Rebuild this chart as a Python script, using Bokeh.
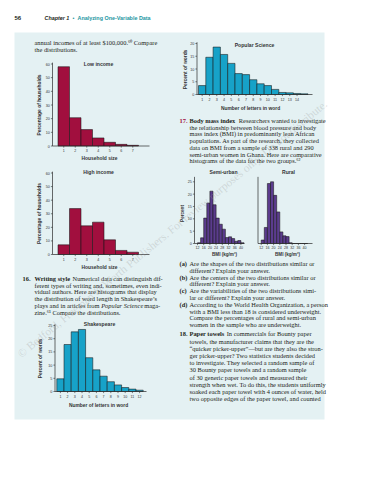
from math import pi, atan2
from bokeh.plotting import figure
from bokeh.models import Range1d, ColumnDataSource
from bokeh.embed import file_html
from bokeh.resources import INLINE
from bokeh.core.properties import value

# ---------------- data ----------------
household_size = [1, 2, 3, 4, 5, 6, 7]
low_income_pct = [58.0, 20.7, 12.0, 5.9, 2.7, 1.2, 0.5]
high_income_pct = [7.1, 33.8, 21.1, 23.8, 10.8, 3.0, 1.7]
income_ticks = [0, 10, 20, 30, 40, 50, 60]

shakespeare_letters = [1, 2, 3, 4, 5, 6, 7, 8, 9, 10, 11, 12]
shakespeare_pct = [4.8, 17.8, 22.6, 23.5, 12.8, 8.2, 5.8, 3.7, 2.5, 1.5, 0.9, 0.5]
shakespeare_ticks = [0, 5, 10, 15, 20, 25]

popsci_letters = [1, 2, 3, 4, 5, 6, 7, 8, 9, 10, 11, 12, 13, 14, 15]
popsci_pct = [3.5, 14.6, 18.6, 15.7, 12.2, 8.2, 7.8, 5.8, 4.2, 3.5, 2.0, 0.8, 0.65, 0.4, 0.25]
popsci_ticks = [0, 5, 10, 15, 20]
popsci_tick_letters = [1, 2, 3, 4, 5, 6, 7, 8, 9, 10, 11, 12, 13, 14]

bmi_bin_left = [12, 14, 16, 18, 20, 22, 24, 26, 28, 30, 32, 34, 36, 38, 40]
semi_urban_pct = [0.3, 2.3, 10.3, 16.4, 21.2, 15.7, 10.3, 7.8, 5.8, 2.4, 2.7, 2.0, 0.9, 1.2, 0.3]
rural_pct = [1.4, 6.5, 24.3, 25.0, 19.5, 12.8, 4.7, 3.1, 2.8, 0.3, 0.0, 0.0, 0.0, 0.0, 0.0]
bmi_ticks = [12, 16, 20, 24, 28, 32, 36, 40]
bmi_pct_ticks = [0, 5, 10, 15, 20, 25]

# ---------------- styles ----------------
SERIF = value("Liberation Serif")
SANS = value("Liberation Sans")
INK = "#231f20"
PANEL = "#e4f1f3"
MAROON = "#a10f3e"
CYAN = "#17a2c8"
PURPLE = "#5b3c8e"
TEAL = "#2496a2"

p = figure(width=360, height=464, x_range=Range1d(8, 368), y_range=Range1d(472, 8),
           x_axis_location=None, y_axis_location=None, toolbar_location=None,
           output_backend="svg", min_border=0, title=None,
           outline_line_color=None, background_fill_color="white",
           border_fill_color="white")
p.xgrid.visible = False
p.ygrid.visible = False

# panel background
p.quad(left=[22], right=[332], top=[40], bottom=[427], fill_color=PANEL, line_color=None)

# Times-like widths for placing text runs
TW = {' ': 250, 'a': 444, 'b': 500, 'c': 444, 'd': 500, 'e': 444, 'f': 333, 'g': 500, 'h': 500,
      'i': 278, 'j': 278, 'k': 500, 'l': 278, 'm': 778, 'n': 500, 'o': 500, 'p': 500, 'q': 500,
      'r': 333, 's': 389, 't': 278, 'u': 500, 'v': 500, 'w': 722, 'x': 500, 'y': 500, 'z': 444,
      'A': 722, 'B': 667, 'C': 667, 'P': 556, 'S': 556, 'W': 944, '.': 250}


def tw(s, size, bold=False):
    return sum(TW.get(c, 500) for c in s) / 1000 * size * (1.08 if bold else 1.0)


FS = 6.4
FSPX = f"{FS}px"


def txt(x, y, s, size=FSPX, font=SERIF, style="normal", color=INK, align="left",
        baseline="middle", angle=0, alpha=1.0):
    p.text(x=[x], y=[y], text=[s], text_font=font, text_font_size=size,
           text_font_style=style, text_color=color, text_align=align,
           text_baseline=baseline, angle=angle, text_alpha=alpha)


# header
txt(22, 25, "56", size="6px", font=SANS, style="bold")
txt(52, 25, "Chapter 1", size="5.4px", font=SANS, style="bold italic")
txt(80, 25, "•", size="5.4px", font=SANS, color=TEAL)
txt(85, 25, "Analyzing One-Variable Data", size="5.4px", font=SANS, style="bold", color=TEAL)

# left column text
LX = 42
txt(LX, 50, "annual incomes of at least $100,000.⁶⁰ Compare")
txt(LX, 57, "the distributions.")

y16 = 286
dy = 6.7
txt(30, y16, "16.", style="bold")
txt(LX, y16, "Writing style", style="bold")
txt(LX + tw("Writing style ", FS, True), y16, "Numerical data can distinguish dif-")
p16 = ["ferent types of writing and, sometimes, even indi-",
       "vidual authors. Here are histograms that display",
       "the distribution of word length in Shakespeare’s"]
for i, s in enumerate(p16):
    txt(LX, y16 + dy * (i + 1), s)
run1 = "plays and in articles from "
txt(LX, y16 + dy * 4, run1)
txt(LX + tw(run1, FS), y16 + dy * 4, "Popular Science", style="italic")
txt(LX + tw(run1 + "Popular Science ", FS), y16 + dy * 4, "maga-")
txt(LX, y16 + dy * 5, "zine.⁶¹ Compare the distributions.")

# right column text
RX = 197
NX = 187
y17 = 128
txt(NX, y17, "17.", style="bold", color=MAROON)
txt(RX, y17, "Body mass index", style="bold")
txt(RX + tw("Body mass index ", FS, True), y17, "Researchers wanted to investigate")
p17 = ["the relationship between blood pressure and body",
       "mass index (BMI) in predominantly lean African",
       "populations. As part of the research, they collected",
       "data on BMI from a sample of 338 rural and 290",
       "semi-urban women in Ghana. Here are comparative",
       "histograms of the data for the two groups.⁶²"]
for i, s in enumerate(p17):
    txt(RX, y17 + dy * (i + 1), s)

questions = [("(a)", ["Are the shapes of the two distributions similar or",
                      "different? Explain your answer."]),
             ("(b)", ["Are the centers of the two distributions similar or",
                      "different? Explain your answer."]),
             ("(c)", ["Are the variabilities of the two distributions simi-",
                      "lar or different? Explain your answer."]),
             ("(d)", ["According to the World Health Organization, a person",
                      "with a BMI less than 18 is considered underweight.",
                      "Compare the percentages of rural and semi-urban",
                      "women in the sample who are underweight."])]
yq = 271
for lab, lines in questions:
    txt(NX, yq, lab, style="bold")
    for s in lines:
        txt(RX, yq, s)
        yq += 6.5
    yq += 0.7

y18 = yq + 2.5
dy18 = 7.2
txt(NX, y18, "18.", style="bold")
txt(RX, y18, "Paper towels", style="bold")
txt(RX + tw("Paper towels ", FS, True), y18, "In commercials for Bounty paper")
p18 = ["towels, the manufacturer claims that they are the",
       "“quicker picker-upper”—but are they also the stron-",
       "ger picker-upper? Two statistics students decided",
       "to investigate. They selected a random sample of",
       "30 Bounty paper towels and a random sample",
       "of 30 generic paper towels and measured their",
       "strength when wet. To do this, the students uniformly",
       "soaked each paper towel with 4 ounces of water, held",
       "two opposite edges of the paper towel, and counted"]
for i, s in enumerate(p18):
    txt(RX, y18 + dy18 * (i + 1), s)


# ---------------- histograms ----------------
AX = "#2b2b2b"


def add_hist(key, centers, vals, bar_w, color, x_anchor, x_anchor_px, px_per_x,
             y0_px, px_per_y, yaxis_px, xaxis_end_px, ytop, yticks, xticks,
             show_ylabels=True, show_yticks=True, xlab_gap=4.6):
    xr, yr = key + "_x", key + "_y"
    p.extra_x_ranges = {**p.extra_x_ranges,
                        xr: Range1d(x_anchor + (8 - x_anchor_px) / px_per_x,
                                    x_anchor + (368 - x_anchor_px) / px_per_x)}
    p.extra_y_ranges = {**p.extra_y_ranges,
                        yr: Range1d((y0_px - 472) / px_per_y, (y0_px - 8) / px_per_y)}
    src = ColumnDataSource(dict(x=centers, top=vals))
    p.vbar(x="x", top="top", bottom=0, width=bar_w, source=src,
           x_range_name=xr, y_range_name=yr, fill_color=color,
           line_color="#161616", line_width=0.55)
    # y axis line
    p.segment(x0=[yaxis_px], x1=[yaxis_px], y0=[0], y1=[ytop], x_range_name="default",
              y_range_name=yr, line_color=AX, line_width=0.7)
    if show_yticks:
        p.segment(x0=[yaxis_px - 1.6] * len(yticks), x1=[yaxis_px] * len(yticks),
                  y0=yticks, y1=yticks, x_range_name="default", y_range_name=yr,
                  line_color=AX, line_width=0.6)
    if show_ylabels:
        p.text(x=[yaxis_px - 2.6] * len(yticks), y=yticks, text=[str(t) for t in yticks],
               x_range_name="default", y_range_name=yr, text_font=SANS,
               text_font_size="3.7px", text_color="#333333", text_align="right",
               text_baseline="middle")
    # x axis
    p.segment(x0=[yaxis_px], x1=[xaxis_end_px], y0=[0], y1=[0], x_range_name="default",
              y_range_name=yr, line_color=AX, line_width=0.7)
    p.segment(x0=xticks, x1=xticks, y0=[y0_px] * len(xticks), y1=[y0_px + 1.6] * len(xticks),
              x_range_name=xr, y_range_name="default", line_color=AX, line_width=0.6)
    p.text(x=xticks, y=[y0_px + xlab_gap] * len(xticks), text=[str(t) for t in xticks],
           x_range_name=xr, y_range_name="default", text_font=SANS,
           text_font_size="3.6px", text_color="#333333", text_align="center",
           text_baseline="middle")


def label(x, y, s, size="4.9px", angle=0):
    txt(x, y, s, size=size, font=SANS, style="bold", color="#333333", align="center",
        angle=angle)


# Low income
add_hist("low", household_size, low_income_pct, 1, MAROON, 0.5, 65.5, 11.5,
         153.5, 82 / 60, 60, 157, 61, income_ticks, household_size)
label(106, 71.5, "Low income", size="5.1px")
label(107, 166, "Household size")
label(47, 112.5, "Percentage of households", angle=pi / 2)

# High income
add_hist("high", household_size, high_income_pct, 1, MAROON, 0.5, 65.5, 11.5,
         262, 81.5 / 60, 60, 157, 61, income_ticks, household_size)
label(106, 179.5, "High income", size="5.1px")
label(107, 274.5, "Household size")
label(47, 221, "Percentage of households", angle=pi / 2)

# Shakespeare
add_hist("shk", shakespeare_letters, shakespeare_pct, 1, CYAN, 0.5, 64.3, 7.2,
         399, 66 / 25, 62.5, 154, 25.5, shakespeare_ticks, shakespeare_letters)
label(107, 331, "Shakespeare", size="5.1px")
label(106, 412.5, "Number of letters in word")
label(48, 366, "Percent of words", angle=pi / 2)

# Popular Science
add_hist("pop", popsci_letters, popsci_pct, 1, CYAN, 0.5, 206, 7.3,
         102, 51 / 20, 204.5, 320, 20.5, popsci_ticks, popsci_tick_letters)
label(262, 52, "Popular Science", size="5.1px")
label(258, 115.5, "Number of letters in word")
label(193, 77, "Percent of words", angle=pi / 2)

# BMI
bmi_centers = [b + 1 for b in bmi_bin_left]
add_hist("semi", bmi_centers, semi_urban_pct, 2, PURPLE, 12, 205, 1.55,
         251, 61.7 / 25, 202, 252, 27, bmi_pct_ticks, bmi_ticks, xlab_gap=4.2)
add_hist("rur", bmi_centers, rural_pct, 2, PURPLE, 12, 268.7, 1.55,
         251, 61.7 / 25, 265.5, 320, 27, bmi_pct_ticks, bmi_ticks,
         show_ylabels=False, show_yticks=False, xlab_gap=4.2)
label(231, 179.5, "Semi-urban", size="5.1px")
label(296, 179.5, "Rural", size="5.1px")
label(232, 261.5, "BMI (kg/m²)", size="4.6px")
label(295, 261.5, "BMI (kg/m²)", size="4.6px")
label(190, 221, "Percent", size="4.6px", angle=pi / 2)

# watermark
txt(180, 236, "© Bedford, Freeman & Worth Publishers. For review purposes only. Do not distribute.",
    size="11.5px", font=SERIF, color="#9a9a9a", align="center", angle=atan2(272, 330),
    alpha=0.3)

open("out.html", "w").write(file_html(p, INLINE))
